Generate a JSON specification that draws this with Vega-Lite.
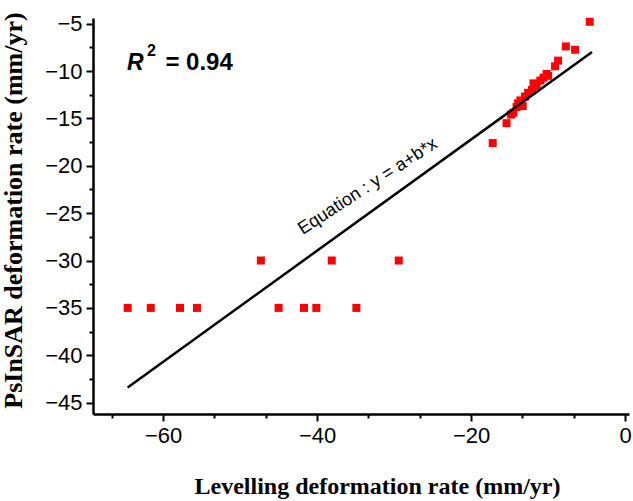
{
  "$schema": "https://vega.github.io/schema/vega-lite/v6.json",
  "width": 536,
  "height": 396,
  "autosize": "none",
  "padding": {"left": 93, "top": 18, "right": 4, "bottom": 87},
  "background": "white",
  "config": {"view": {"stroke": null}},
  "datasets": {
    "pts": [
      {"lev": -64.6, "ps": -35}, {"lev": -61.6, "ps": -35}, {"lev": -57.8, "ps": -35}, {"lev": -55.6, "ps": -35},
      {"lev": -45.0, "ps": -35}, {"lev": -41.7, "ps": -35}, {"lev": -40.1, "ps": -35}, {"lev": -34.9, "ps": -35},
      {"lev": -47.3, "ps": -30}, {"lev": -38.1, "ps": -30}, {"lev": -29.4, "ps": -30},
      {"lev": -4.6, "ps": -4.8}, {"lev": -7.7, "ps": -7.4}, {"lev": -6.5, "ps": -7.75},
      {"lev": -8.7, "ps": -8.9}, {"lev": -9.1, "ps": -9.5}, {"lev": -10.2, "ps": -10.3},
      {"lev": -10.6, "ps": -10.7}, {"lev": -11.9, "ps": -11.3}, {"lev": -11.5, "ps": -11.6},
      {"lev": -12.1, "ps": -12.0}, {"lev": -13.0, "ps": -12.7}, {"lev": -13.6, "ps": -13.1},
      {"lev": -13.3, "ps": -13.7}, {"lev": -14.1, "ps": -13.8}, {"lev": -14.5, "ps": -14.4},
      {"lev": -15.4, "ps": -15.5}, {"lev": -17.2, "ps": -17.6},
      {"lev": -11.0, "ps": -11.0}, {"lev": -12.6, "ps": -12.3}, {"lev": -13.9, "ps": -13.4},
      {"lev": -14.8, "ps": -14.6}, {"lev": -10.0, "ps": -10.5}
    ],
    "fit": [
      {"lev": -64.6, "ps": -43.4},
      {"lev": -4.3, "ps": -8.0}
    ]
  },
  "resolve": {"axis": {"x": "independent", "y": "independent"}},
  "layer": [
    {
      "data": {"name": "pts"},
      "mark": {"type": "square", "color": "#ff0000", "filled": true, "opacity": 1, "size": 64},
      "encoding": {
        "x": {
          "field": "lev", "type": "quantitative",
          "scale": {"domain": [-69.1, 0.5], "nice": false, "zero": false},
          "axis": {
            "orient": "bottom",
            "values": [-60, -40, -20, 0], "grid": false,
            "domainColor": "black", "domainWidth": 2.5,
            "tickColor": "black", "tickWidth": 2, "tickSize": 7,
            "labelFont": "Liberation Sans", "labelFontSize": 22, "labelColor": "black", "labelPadding": 4,
            "title": "Levelling deformation rate (mm/yr)",
            "titleFont": "Liberation Serif", "titleFontWeight": "bold", "titleFontSize": 24, "titleColor": "black",
            "titleX": 284, "titleY": 79, "titleBaseline": "alphabetic", "titleAnchor": "middle"
          }
        },
        "y": {
          "field": "ps", "type": "quantitative",
          "scale": {"domain": [-46.2, -4.4], "nice": false, "zero": false},
          "axis": {
            "orient": "left",
            "values": [-5, -10, -15, -20, -25, -30, -35, -40, -45], "grid": false,
            "domainColor": "black", "domainWidth": 2.5,
            "tickColor": "black", "tickWidth": 2, "tickSize": 7,
            "labelFont": "Liberation Sans", "labelFontSize": 22, "labelColor": "black", "labelPadding": 4,
            "title": "PsInSAR deformation rate (mm/yr)",
            "titleFont": "Liberation Serif", "titleFontWeight": "bold", "titleFontSize": 26, "titleColor": "black",
            "titleX": -72, "titleY": 192, "titleBaseline": "alphabetic", "titleAngle": -90, "titleAnchor": "middle"
          }
        }
      }
    },
    {
      "data": {"name": "fit"},
      "mark": {"type": "line", "color": "black", "strokeWidth": 2.5},
      "encoding": {
        "x": {
          "field": "lev", "type": "quantitative",
          "axis": {
            "orient": "bottom",
            "values": [-66.667, -53.333, -46.667, -33.333, -26.667, -13.333, -6.667],
            "grid": false, "domain": false, "labels": false, "title": null,
            "tickColor": "black", "tickWidth": 2, "tickSize": 4
          }
        },
        "y": {
          "field": "ps", "type": "quantitative",
          "axis": {
            "orient": "left",
            "values": [-7.5, -12.5, -17.5, -22.5, -27.5, -32.5, -37.5, -42.5],
            "grid": false, "domain": false, "labels": false, "title": null,
            "tickColor": "black", "tickWidth": 2, "tickSize": 4
          }
        }
      }
    },
    {
      "data": {"values": [{"t": "Equation : y = a+b*x"}]},
      "mark": {"type": "text", "font": "Liberation Sans", "fontSize": 18, "angle": -33, "align": "center", "baseline": "middle", "color": "black"},
      "encoding": {
        "x": {"datum": -33.4, "type": "quantitative", "axis": null},
        "y": {"datum": -22.2, "type": "quantitative", "axis": null},
        "text": {"field": "t"}
      }
    },
    {
      "data": {"values": [{"t": "R"}]},
      "mark": {"type": "text", "font": "Liberation Sans", "fontSize": 23, "fontWeight": "bold", "fontStyle": "italic", "align": "left", "baseline": "alphabetic", "color": "black"},
      "encoding": {
        "x": {"datum": -64.7, "type": "quantitative", "axis": null},
        "y": {"datum": -9.9, "type": "quantitative", "axis": null},
        "text": {"field": "t"}
      }
    },
    {
      "data": {"values": [{"t": "2"}]},
      "mark": {"type": "text", "font": "Liberation Sans", "fontSize": 16, "fontWeight": "bold", "align": "left", "baseline": "alphabetic", "color": "black"},
      "encoding": {
        "x": {"datum": -62.1, "type": "quantitative", "axis": null},
        "y": {"datum": -8.4, "type": "quantitative", "axis": null},
        "text": {"field": "t"}
      }
    },
    {
      "data": {"values": [{"t": "= 0.94"}]},
      "mark": {"type": "text", "font": "Liberation Sans", "fontSize": 24, "fontWeight": "bold", "align": "left", "baseline": "alphabetic", "color": "black"},
      "encoding": {
        "x": {"datum": -59.7, "type": "quantitative", "axis": null},
        "y": {"datum": -9.9, "type": "quantitative", "axis": null},
        "text": {"field": "t"}
      }
    }
  ]
}
